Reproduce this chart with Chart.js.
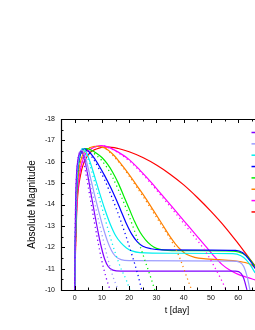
<!DOCTYPE html>
<html><head><meta charset="utf-8">
<script src="https://cdn.jsdelivr.net/npm/chart.js@4/dist/chart.umd.min.js"></script>
<style>html,body{margin:0;padding:0;background:#fff;overflow:hidden}canvas{display:block}</style>
</head><body>
<canvas id="c" width="255" height="330"></canvas>
<script>
// ---- data: [t (day), absolute magnitude] ----
const xTickLabels = [0, 10, 20, 30, 40, 50, 60];
const yTickLabels = [-18, -17, -16, -15, -14, -13, -12, -11, -10];
const seriesNames = ['purple', 'lavender', 'cyan', 'blue', 'green', 'orange', 'magenta', 'red'];
const seriesColors = ['#8000ff', '#9c9cff', '#00f0f0', '#0000ff', '#00ee00', '#ff8000', '#ff00ff', '#ff0000'];

const purpleSolid = [[0,-10],[0.15,-12],[0.35,-14],[0.7,-15.4],[1.2,-16.1],[2,-16.45],[2.6,-16.5],[3.3,-16.3],[4.5,-15.6],[6,-14.5],[7.5,-13.45],[8.7,-12.65],[9.8,-12.0],[11,-11.45],[12.3,-11.1],[14,-10.93],[17,-10.88],[40,-10.88],[59,-10.88],[61,-10.78],[62,-10.55],[63.2,-10]];
const purpleDotted = [[0,-10],[0.15,-12],[0.35,-14],[0.7,-15.4],[1.2,-16.1],[2,-16.45],[2.5,-16.45],[3.1,-16.15],[4,-15.55],[5.5,-14.45],[7,-13.35],[8.5,-12.3],[10,-11.35],[11.5,-10.6],[13,-10]];
const lavenderSolid = [[0,-10],[0.2,-12],[0.45,-14],[0.85,-15.4],[1.5,-16.2],[2.5,-16.55],[3.3,-16.45],[4.5,-15.95],[6,-15.15],[7.5,-14.35],[9,-13.6],[10.5,-12.9],[12,-12.3],[13.5,-11.85],[15,-11.57],[17,-11.42],[20,-11.37],[40,-11.36],[58,-11.35],[60.5,-11.3],[62,-11.1],[63.3,-10.6],[64.3,-10]];
const lavenderDotted = [[0,-10],[0.2,-12],[0.45,-14],[0.85,-15.4],[1.5,-16.2],[2.5,-16.55],[3.2,-16.4],[4.3,-15.85],[6,-14.85],[8,-13.7],[10,-12.6],[12,-11.55],[14,-10.65],[16,-10]];
const cyanSolid = [[0,-10],[0.2,-12],[0.5,-14],[0.95,-15.4],[1.7,-16.25],[3,-16.6],[4,-16.5],[5.5,-16.05],[7,-15.45],[9,-14.6],[11,-13.8],[13,-13.1],[15,-12.55],[17,-12.2],[19,-11.97],[21,-11.83],[24,-11.75],[35,-11.72],[58,-11.7],[61,-11.6],[63,-11.4],[64.5,-11.15],[66.2,-10.8]];
const cyanDotted = [[0,-10],[0.2,-12],[0.5,-14],[0.95,-15.4],[1.7,-16.25],[3,-16.6],[4,-16.45],[5.5,-15.9],[7,-15.2],[9,-14.3],[11,-13.4],[13,-12.5],[15,-11.7],[17,-11.0],[19,-10.45],[20.3,-10]];
const blueSolid = [[0,-10],[0.25,-12],[0.55,-14],[1,-15.4],[1.9,-16.25],[3.5,-16.6],[5,-16.5],[7,-16.2],[9,-15.8],[11,-15.35],[13,-14.85],[15,-14.3],[17,-13.7],[19,-13.1],[21,-12.6],[23,-12.25],[25,-12.05],[28,-11.93],[32,-11.88],[50,-11.87],[59,-11.85],[61.5,-11.75],[63.5,-11.5],[65,-11.25],[66.2,-11.0]];
const blueDotted = [[0,-10],[0.25,-12],[0.55,-14],[1,-15.4],[1.9,-16.25],[3.5,-16.6],[5,-16.45],[7,-16.1],[9,-15.65],[11,-15.15],[13,-14.55],[15,-13.9],[17,-13.2],[19,-12.45],[21,-11.65],[23,-10.8],[24.6,-10]];
const greenSolid = [[0,-10],[0.25,-12],[0.6,-14],[1.1,-15.4],[2,-16.3],[3,-16.55],[4.2,-16.62],[6,-16.55],[8,-16.4],[10,-16.2],[12,-15.9],[14,-15.5],[16,-15.0],[18,-14.4],[20,-13.8],[22,-13.2],[24,-12.7],[26,-12.35],[28,-12.1],[30,-11.95],[33,-11.87],[40,-11.84],[55,-11.83],[60,-11.78],[63,-11.6],[65,-11.3],[66.2,-11.1]];
const greenDotted = [[0,-10],[0.25,-12],[0.6,-14],[1.1,-15.4],[2,-16.3],[3,-16.55],[4.2,-16.6],[6,-16.5],[8,-16.3],[10,-16.05],[12,-15.7],[14,-15.25],[16,-14.7],[18,-14.1],[20,-13.45],[22,-12.75],[24,-12.05],[26,-11.3],[28,-10.55],[29.4,-10]];
const orangeSolid = [[0,-10],[0.3,-12],[0.7,-14],[1.4,-15.4],[2.6,-16.2],[4,-16.5],[6,-16.68],[8,-16.72],[11,-16.65],[14,-16.35],[17,-15.9],[20,-15.4],[23,-14.85],[26,-14.3],[29,-13.7],[32,-13.1],[35,-12.5],[37,-12.15],[39,-11.87],[41,-11.67],[44,-11.53],[48,-11.46],[53,-11.42],[58,-11.37],[62,-11.3],[64.5,-11.2],[66.2,-11.05]];
const orangeDotted = [[0,-10],[0.3,-12],[0.7,-14],[1.4,-15.4],[2.6,-16.2],[4,-16.5],[6,-16.68],[8,-16.72],[11,-16.63],[14,-16.3],[17,-15.85],[20,-15.33],[23,-14.77],[26,-14.2],[29,-13.6],[32,-13.0],[35,-12.4],[37,-11.95],[39,-11.35],[41,-10.65],[42.9,-10]];
const magentaSolid = [[0,-10],[0.3,-12],[0.8,-14],[1.8,-15.4],[3.8,-16.33],[6,-16.6],[8,-16.72],[10,-16.75],[13,-16.65],[16,-16.45],[20,-16.1],[24,-15.6],[28,-15.05],[32,-14.45],[36,-13.85],[40,-13.25],[44,-12.65],[48,-12.05],[51,-11.6],[54,-11.2],[57,-10.92],[60,-10.73],[63,-10.6],[66.2,-10.47]];
const magentaDotted = [[0,-10],[0.3,-12],[0.8,-14],[1.8,-15.4],[3.8,-16.33],[6,-16.6],[8,-16.72],[10,-16.75],[13,-16.63],[16,-16.42],[20,-16.05],[24,-15.55],[28,-14.98],[32,-14.37],[36,-13.75],[40,-13.12],[44,-12.48],[48,-11.8],[51,-11.15],[53.5,-10.55],[55.6,-10]];
const redSolid = [[0,-10],[0.35,-12],[0.9,-14],[2.2,-15.4],[5,-16.33],[8,-16.6],[12,-16.7],[16,-16.62],[20,-16.47],[25,-16.2],[30,-15.85],[35,-15.42],[40,-14.92],[45,-14.33],[50,-13.68],[55,-12.97],[60,-12.17],[62.5,-11.75],[66.2,-11.12]];

const solids = [purpleSolid, lavenderSolid, cyanSolid, blueSolid, greenSolid, orangeSolid, magentaSolid, redSolid];
const dotteds = [purpleDotted, lavenderDotted, cyanDotted, blueDotted, greenDotted, orangeDotted, magentaDotted, null];

const toXY = arr => arr.map(p => ({x: p[0], y: p[1]}));
const datasets = [];
dotteds.forEach((d, i) => {
  if (!d) return;
  datasets.push({label: seriesNames[i] + ' (dotted)', data: toXY(d), borderColor: seriesColors[i],
    borderWidth: 1.3, borderDash: [1.2, 3.2], pointRadius: 0, cubicInterpolationMode: 'monotone', fill: false});
});
solids.forEach((d, i) => {
  datasets.push({label: seriesNames[i], data: toXY(d), borderColor: seriesColors[i],
    borderWidth: 1.2, pointRadius: 0, cubicInterpolationMode: 'monotone', fill: false});
});

const FONT = 'Liberation Sans, Arial, sans-serif';

const framePlugin = {
  id: 'frame',
  afterDraw(chart) {
    const {ctx, chartArea: a, scales: {x, y}} = chart;
    ctx.save();
    ctx.strokeStyle = '#000';
    ctx.lineWidth = 1.2;
    ctx.beginPath();
    ctx.moveTo(a.left + 0.5, a.top); ctx.lineTo(a.left + 0.5, a.bottom + 1);
    ctx.moveTo(a.left, a.bottom + 0.5); ctx.lineTo(a.right, a.bottom + 0.5);
    ctx.moveTo(a.left, a.top + 0.5); ctx.lineTo(a.right, a.top + 0.5);
    ctx.stroke();
    ctx.lineWidth = 1;
    ctx.beginPath();
    for (let v = -5; v <= 65; v += 5) {
      const px = Math.round(x.getPixelForValue(v)) + 0.5;
      const len = (v % 10 === 0) ? 4 : 2.5;
      ctx.moveTo(px, a.bottom); ctx.lineTo(px, a.bottom - len);
      ctx.moveTo(px, a.top); ctx.lineTo(px, a.top + len);
    }
    for (let v = -18; v <= -10; v += 0.5) {
      const py = Math.round(y.getPixelForValue(v)) + 0.5;
      const len = Number.isInteger(v) ? 4 : 2.5;
      ctx.moveTo(a.left, py); ctx.lineTo(a.left + len, py);
    }
    ctx.stroke();
    // x axis title
    ctx.fillStyle = '#000';
    ctx.font = '9px ' + FONT;
    ctx.textAlign = 'center';
    ctx.textBaseline = 'middle';
    ctx.fillText('t [day]', 177, 311);
    // legend line samples (labels lie outside the visible area)
    ctx.lineWidth = 1.5;
    seriesColors.forEach((c, i) => {
      const ly = 132.5 + i * 11.35;
      ctx.strokeStyle = c;
      ctx.beginPath();
      ctx.moveTo(251.5, ly); ctx.lineTo(256, ly);
      ctx.stroke();
    });
    ctx.restore();
  }
};

new Chart(document.getElementById('c'), {
  type: 'line',
  data: {datasets},
  options: {
    responsive: false,
    animation: false,
    devicePixelRatio: 1,
    layout: {padding: {top: 119, right: 0, left: 0, bottom: 0}},
    plugins: {legend: {display: false}, tooltip: {enabled: false}},
    scales: {
      x: {
        type: 'linear', min: -5, max: 66.14,
        grid: {display: false, drawTicks: false}, border: {display: false},
        afterBuildTicks: s => { s.ticks = xTickLabels.map(v => ({value: v})); },
        afterFit: s => { s.height = 40; },
        ticks: {font: {family: FONT, size: 7}, color: '#111', padding: 4, maxRotation: 0, autoSkip: false}
      },
      y: {
        type: 'linear', min: -18, max: -10, reverse: true,
        grid: {display: false, drawTicks: false}, border: {display: false},
        afterBuildTicks: s => { s.ticks = yTickLabels.map(v => ({value: v})); },
        afterFit: s => { s.width = 61; },
        ticks: {font: {family: FONT, size: 7}, color: '#111', padding: 6, autoSkip: false},
        title: {display: true, text: 'Absolute Magnitude', font: {family: FONT, size: 10}, color: '#000', padding: {top: 26, bottom: 0}}
      }
    }
  },
  plugins: [framePlugin]
});
</script>
</body></html>
